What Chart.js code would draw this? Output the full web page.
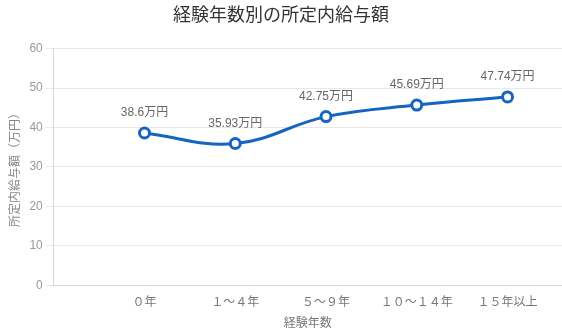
<!DOCTYPE html>
<html lang="ja">
<head>
<meta charset="utf-8">
<title>経験年数別の所定内給与額</title>
<script src="https://cdn.jsdelivr.net/npm/chart.js@4"></script>
<style>
  html, body { margin: 0; padding: 0; background: #fff; }
  #wrap { width: 562px; height: 332px; position: relative; }
</style>
</head>
<body>
<div id="wrap"><canvas id="salaryChart"></canvas></div>
<script>
const categories = ['０年', '１～４年', '５～９年', '１０～１４年', '１５年以上'];
const salary = [38.6, 35.93, 42.75, 45.69, 47.74];
const unit = '万円';

const fontFamily = '"Liberation Sans", Arial, "Noto Sans CJK JP", sans-serif';

// draws the value labels above each point
const valueLabels = {
  id: 'valueLabels',
  afterDatasetsDraw(chart) {
    const { ctx } = chart;
    const meta = chart.getDatasetMeta(0);
    ctx.save();
    ctx.font = '12px ' + fontFamily;
    ctx.fillStyle = '#666';
    ctx.textAlign = 'center';
    ctx.textBaseline = 'middle';
    meta.data.forEach((pt, i) => {
      ctx.fillText(salary[i] + unit, pt.x, pt.y - 20);
    });
    ctx.restore();
  }
};

const ctx = document.getElementById('salaryChart');

new Chart(ctx, {
  type: 'line',
  data: {
    datasets: [{
      label: '所定内給与額',
      data: salary.map((v, i) => ({ x: i, y: v })),
      borderColor: '#1565c0',
      borderWidth: 3,
      backgroundColor: '#fff',
      pointBackgroundColor: '#fff',
      pointBorderColor: '#1565c0',
      pointBorderWidth: 3,
      pointRadius: 5,
      tension: 0.4
    }]
  },
  options: {
    responsive: true,
    maintainAspectRatio: false,
    animation: false,
    layout: { autoPadding: false, padding: 0 },
    plugins: {
      legend: { display: false },
      tooltip: { enabled: false },
      title: {
        display: true,
        text: '経験年数別の所定内給与額',
        color: '#333',
        font: { family: fontFamily, size: 18, weight: 'normal' },
        padding: { top: 5, bottom: 22 }
      }
    },
    scales: {
      x: {
        type: 'linear',
        min: -1,
        max: 4.6,
        // ticks hidden, but their length gives the gap under the axis
        grid: { display: false, drawTicks: true, tickLength: 10 },
        border: { display: true, color: '#d6d6d6' },
        ticks: {
          stepSize: 1,
          autoSkip: false,
          maxRotation: 0,
          padding: 0,
          color: '#777',
          font: { family: fontFamily, size: 12 },
          callback: (v) => (Number.isInteger(v) && v >= 0 && v < categories.length) ? categories[v] : ''
        },
        title: {
          display: true,
          text: '経験年数',
          color: '#777',
          font: { family: fontFamily, size: 12 },
          padding: { top: 7, bottom: 1 }
        }
      },
      y: {
        min: 0,
        max: 60,
        grid: { color: '#e8e8e8', tickLength: 8 },
        border: { display: true, color: '#d6d6d6' },
        ticks: {
          stepSize: 10,
          padding: 3,
          color: '#999',
          font: { family: fontFamily, size: 12 }
        },
        title: {
          display: true,
          text: '所定内給与額（万円）',
          color: '#888',
          font: { family: fontFamily, size: 12 },
          padding: { top: 8, bottom: 4 }
        }
      }
    }
  },
  plugins: [valueLabels]
});
</script>
</body>
</html>
